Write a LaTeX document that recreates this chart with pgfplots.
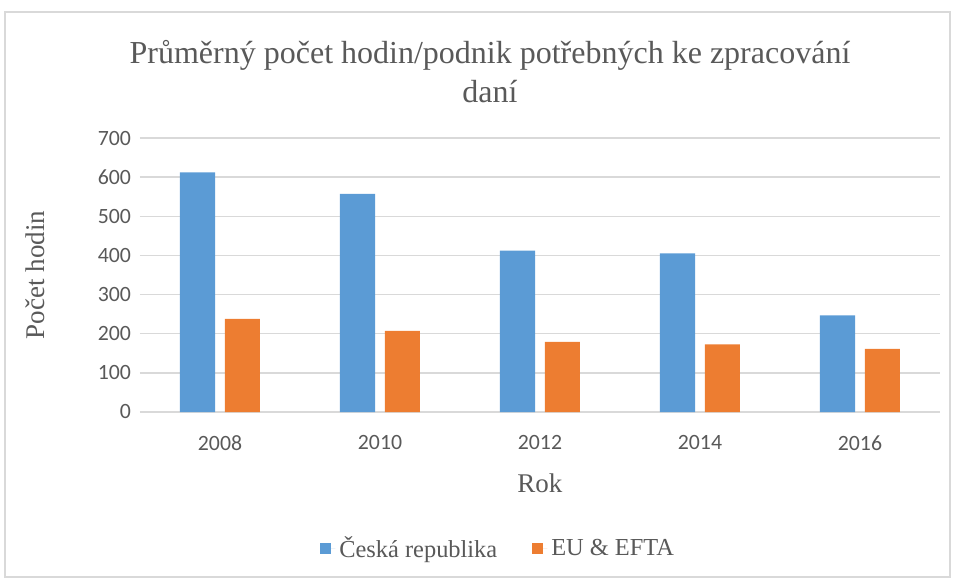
\documentclass[border=0pt]{standalone}
\usepackage{fontspec}
\setmainfont{Liberation Serif}
\newfontfamily\carlito{Carlito}
\usepackage{pgfplots}
\pgfplotsset{compat=1.18}
\definecolor{czblue}{HTML}{5B9BD5}
\definecolor{euorange}{HTML}{ED7D31}
\definecolor{gridgray}{HTML}{D9D9D9}
\definecolor{textgray}{HTML}{595959}
\begin{document}
\begin{tikzpicture}
\path[use as bounding box] (0,0) rectangle (477.5pt,290pt);
\draw[gridgray, line width=0.6pt] (2.5pt,1.5pt) rectangle (475pt,284pt);
\begin{axis}[
    at={(70pt,84pt)}, anchor=south west,
    scale only axis,
    width=400pt, height=137pt,
    ybar=4.8pt, bar width=17.6pt,
    xmin=-0.5, xmax=4.5,
    ymin=0, ymax=700,
    ytick={0,100,...,700},
    xtick=data,
    xticklabels={2008,2010,2012,2014,2016},
    ymajorgrids,
    grid style={gridgray, line width=0.75pt},
    axis line style={draw=none},
    tick style={draw=none},
    /pgf/number format/assume math mode=true,
    ticklabel style={font=\carlito\fontsize{10.9}{12}\selectfont, text=textgray},
    yticklabel style={xshift=-1pt},
    xticklabel style={yshift=-4pt},
    title={Průměrný počet hodin/podnik potřebných ke zpracování\\daní},
    title style={at={(0.4375,1.2)}, anchor=center, align=center,
        font=\fontsize{16}{19.5}\selectfont, text=textgray},
    xlabel={Rok},
    xlabel style={at={(axis description cs:0.5,-0.259)}, anchor=center,
        font=\fontsize{13.5}{15}\selectfont, text=textgray},
    ylabel={Počet hodin},
    ylabel style={at={(axis description cs:-0.131,0.5)}, anchor=center,
        font=\fontsize{13.5}{15}\selectfont, text=textgray},
    legend columns=2,
    legend style={at={(0.449,-0.5)}, anchor=center, draw=none,
        font=\fontsize{12.2}{14}\selectfont, text=textgray,
        /tikz/every even column/.append style={column sep=15.5pt}},
    legend image code/.code={\fill[#1] (0pt,-2.75pt) rectangle (5.5pt,2.75pt);
        \path (0pt,0pt) -- (7.5pt,0pt);},
]
\addplot[fill=czblue, draw=none] coordinates {(0,612) (1,557) (2,412) (3,405) (4,247)};
\addplot[fill=euorange, draw=none] coordinates {(0,238) (1,207) (2,179) (3,173) (4,161)};
\legend{Česká republika, EU \& EFTA}
\end{axis}
\end{tikzpicture}
\end{document}
